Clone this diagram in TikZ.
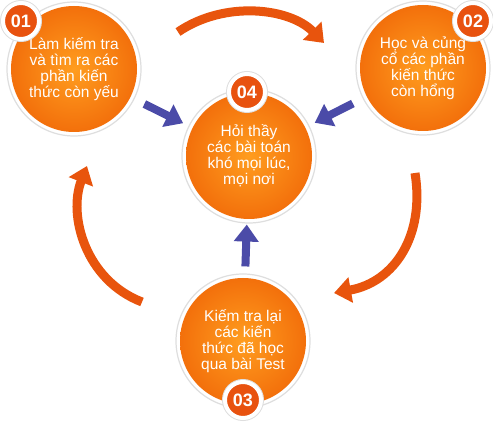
\documentclass[tikz,border=0pt]{standalone}
\usepackage{fontspec}
\setmainfont{Liberation Sans}
\usepackage{xcolor}
\usepackage{tikz}
\usetikzlibrary{arrows.meta}

\definecolor{stepLight}{HTML}{FF9D1F}
\definecolor{stepDark}{HTML}{F26D0A}
\definecolor{badgeRed}{HTML}{E8520F}
\definecolor{loopOrange}{HTML}{E8540D}
\definecolor{hintBlue}{HTML}{4B4BA8}

\tikzset{
  stepball/.style={circle, minimum size=134pt, inner sep=0pt, fill=white,
    draw=black!13, line width=1.2pt, text=white, align=center,
    font=\fontsize{15.5}{16}\selectfont,
    path picture={\shade[inner color=stepLight, outer color=stepDark]
      (path picture bounding box.center) circle (63pt);}},
  badge/.style={circle, minimum size=36pt, inner sep=0pt, fill=badgeRed,
    draw=white, line width=4pt, preaction={draw=black!13, line width=6pt},
    text=white, font=\bfseries\fontsize{18}{18}\selectfont},
  loop arrow/.style={line width=9pt, draw=loopOrange,
    -{Triangle[length=17pt,width=25pt]}},
  hint arrow/.style={line width=8pt, draw=hintBlue,
    -{Triangle[length=17pt,width=24pt]}}
}

\begin{document}
\begin{tikzpicture}[x=1pt,y=-1pt]
  \useasboundingbox (0,0) rectangle (493,422);

  % the four steps
  \node[stepball] (s1) at (74,69) {Làm kiếm tra\\và tìm ra các\\phần kiến\\thức còn yếu};
  \node[stepball] (s2) at (423,68) {Học và củng\\cổ các phần\\kiến thức\\còn hổng};
  \node[stepball] (s3) at (243,341) {Kiếm tra lại\\các kiến\\thức đã học\\qua bài Test};
  \node[stepball] (s4) at (249,156) {Hỏi thầy\\các bài toán\\khó mọi lúc,\\mọi nơi};

  % numbers
  \node[badge] (b1) at (21,21) {01};
  \node[badge] (b2) at (473,21) {02};
  \node[badge] (b3) at (243,400) {03};
  \node[badge] (b4) at (247,92) {04};

  % cycle
  \coordinate (t1) at (178,32);
  \coordinate (t2) at (324,43);
  \coordinate (r1) at (415,173);
  \coordinate (r2) at (334,293);
  \coordinate (l1) at (142,302);
  \coordinate (l2) at (87,166);
  \draw[loop arrow] (t1) .. controls (225,0) and (290,8) .. (t2);
  \draw[loop arrow] (r1) .. controls (425,235) and (395,282) .. (r2);
  \draw[loop arrow] (l1) .. controls (85,280) and (68,215) .. (l2);

  % towards the middle
  \draw[hint arrow, shorten <=11pt, shorten >=6pt] (s1) -- (s4);
  \draw[hint arrow, shorten <=11pt, shorten >=6pt] (s2) -- (s4);
  \draw[hint arrow, shorten <=7pt, shorten >=1pt] (s3) -- (s4);
\end{tikzpicture}
\end{document}
